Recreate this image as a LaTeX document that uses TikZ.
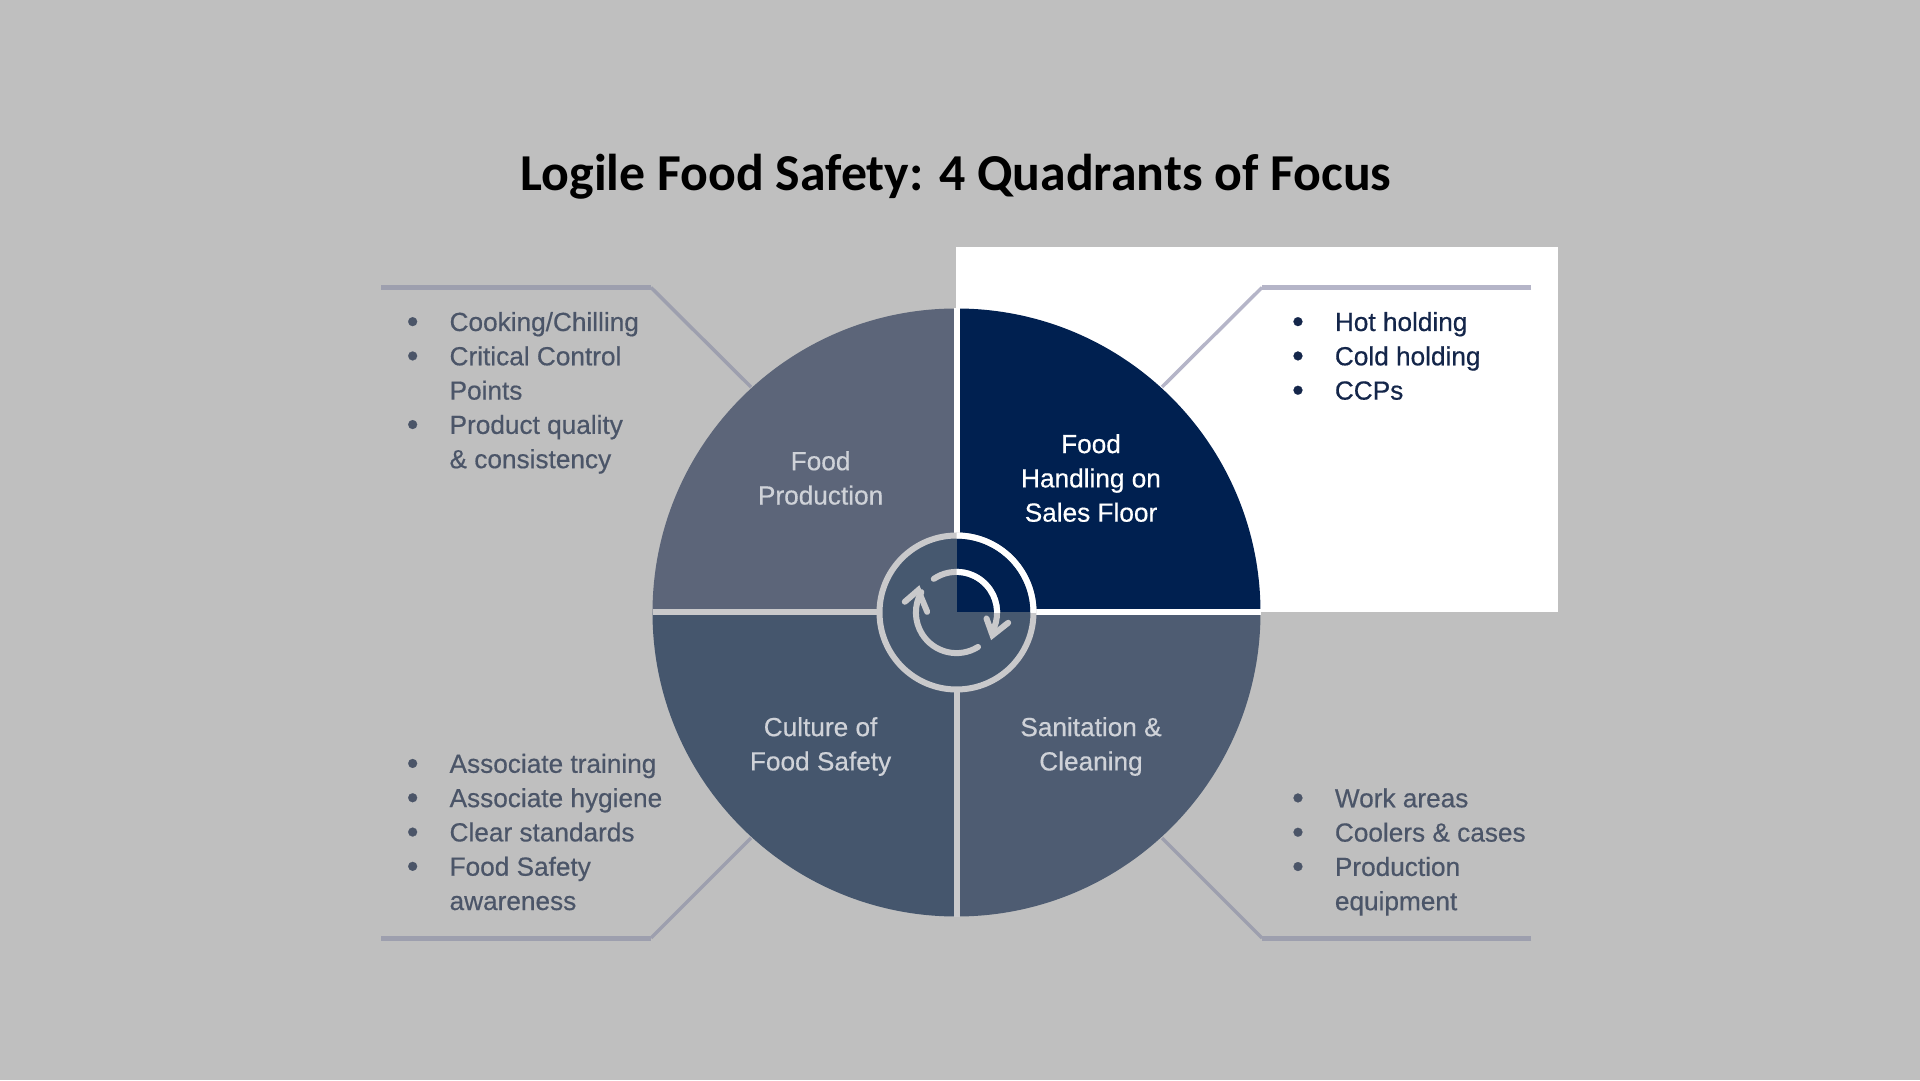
\documentclass[tikz,border=0pt]{standalone}
\usepackage{fontspec}
\setmainfont{Liberation Sans}
\newfontfamily\plainbody{Liberation Sans}[FakeBold=0.5]
\newfontfamily\titlefont{Carlito}
\definecolor{bgc}{HTML}{BFBFBF}
\definecolor{navyq}{HTML}{002050}
\definecolor{ulq}{HTML}{5C6579}
\definecolor{llq}{HTML}{45566D}
\definecolor{lrq}{HTML}{4E5C72}
\definecolor{hubc}{HTML}{46586F}
\definecolor{linec}{HTML}{C9C9CB}
\definecolor{leadg}{HTML}{9D9FAE}
\definecolor{leadw}{HTML}{B5B5C8}
\definecolor{listg}{HTML}{4B5568}
\definecolor{listn}{HTML}{14264A}
\definecolor{lab}{HTML}{CFD2D8}
\newcommand{\bodysize}{\plainbody\fontsize{26.2}{34.3}\selectfont}
\newcommand{\blt}{\raisebox{-1.6pt}[0pt][0pt]{\fontsize{33}{34.3}\selectfont\textbullet}}
\newenvironment{blist}{\renewcommand{\arraystretch}{1}\begin{tabular}[t]{@{}p{42.7pt}@{}l@{}}}{\end{tabular}}
\tikzset{
  x=1pt,y=1pt,
  listnode/.style={anchor=base west,inner sep=0pt,font=\bodysize,text=listg},
  qlabel/.style={align=center,inner sep=0pt,font=\bodysize,text=lab},
  leader/.style={draw=leadg,line width=3.5pt,line join=miter},
  leaderbar/.style={draw=leadg,line width=5pt},
  gapline/.style={draw=linec,line width=6pt},
  cyc/.style={draw=linec,line width=6pt,line cap=round},
  chev/.style={draw=linec,line width=6pt,line join=miter,line cap=round}
}
\begin{document}
\begin{tikzpicture}
\useasboundingbox (0,0) rectangle (1920,1080);
\fill[bgc] (0,0) rectangle (1920,1080);
\coordinate (c) at (956.5,467.5);
% white panel
\fill[white] (956,468) rectangle (1558,833);
% leader corners
\coordinate (ulA) at (381,792.5); \coordinate (ulB) at (651,792.5); \coordinate (ulC) at (751,693);
\coordinate (urA) at (1531,792.5); \coordinate (urB) at (1262,792.5); \coordinate (urC) at (1162,693);
\coordinate (llA) at (381,142); \coordinate (llB) at (651,142); \coordinate (llC) at (751,242);
\coordinate (lrA) at (1531,142); \coordinate (lrB) at (1262,142); \coordinate (lrC) at (1162,242);
\draw[leaderbar] (ulA) -- (ulB);
\draw[leader] (ulB) -- (ulC);
\draw[leaderbar,draw=leadw] (urA) -- (urB);
\draw[leader,draw=leadw] (urB) -- (urC);
\draw[leaderbar] (llA) -- (llB);
\draw[leader] (llB) -- (llC);
\draw[leaderbar] (lrA) -- (lrB);
\draw[leader] (lrB) -- (lrC);
% quadrants
\fill[navyq] (c) -- ++(0,304) arc[start angle=90,end angle=0,radius=304] -- cycle;
\fill[ulq] (c) -- ++(0,304) arc[start angle=90,end angle=180,radius=304] -- cycle;
\fill[llq] (c) -- ++(-304,0) arc[start angle=180,end angle=270,radius=304] -- cycle;
\fill[lrq] (c) -- ++(0,-304) arc[start angle=270,end angle=360,radius=304] -- cycle;
% dividers
\coordinate (dT) at (956.5,771.5); \coordinate (dB) at (956.5,163.5);
\coordinate (dL) at (652.5,467.5); \coordinate (dR) at (1260.5,467.5);
\draw[gapline,draw=white] (c) -- (dT);
\draw[gapline,draw=white] (c) -- (dR);
\draw[gapline] (c) -- (dL);
\draw[gapline] (c) -- (dB);
% hub
\fill[hubc] (c) circle[radius=77];
\begin{scope}
\clip (c) circle[radius=77];
\fill[navyq] (c) rectangle ++(90,90);
\end{scope}
\draw[linec,line width=6pt] (c) circle[radius=77];
\begin{scope}
\clip (c) rectangle ++(90,90);
\draw[white,line width=6pt] (c) circle[radius=77];
\end{scope}
% cycle arrows
\draw[cyc] ([shift={(124:40.6)}]c) arc[start angle=124,end angle=-30,radius=40.6];
\draw[chev] ([shift={(30,-6)}]c) -- ([shift={(36,-22.7)}]c) -- ([shift={(51.7,-10.3)}]c);
\begin{scope}
\clip (c) rectangle ++(90,90);
\draw[cyc,draw=white] ([shift={(124:40.6)}]c) arc[start angle=124,end angle=-30,radius=40.6];
\end{scope}
\draw[cyc] ([shift={(-58:40.6)}]c) arc[start angle=-58,end angle=-210,radius=40.6];
\draw[chev] ([shift={(-51.7,10.7)}]c) -- ([shift={(-38.3,22.3)}]c) -- ([shift={(-29.3,0.7)}]c);
% title
\node[anchor=base,inner sep=0pt,font=\titlefont\bfseries\fontsize{51.8}{60}\selectfont,text=black] (title) at (956,889.6) {Logile Food Safety: 4 Quadrants of Focus};
% quadrant labels
\node[qlabel] (qul) at (820.6,602) {Food\\Production};
\node[qlabel,text=white] (qur) at (1091,602) {Food\\Handling on\\Sales Floor};
\node[qlabel] (qll) at (820.6,333.5) {Culture of\\Food Safety};
\node[qlabel] (qlr) at (1091,333.5) {Sanitation \&\\Cleaning};
% lists
\node[listnode] (lul) at (406.7,749) {\begin{blist}\blt & Cooking/Chilling\\ \blt & Critical Control\\ & Points\\ \blt & Product quality\\ & \& consistency\end{blist}};
\node[listnode,text=listn] (lur) at (1292,749) {\begin{blist}\blt & Hot holding\\ \blt & Cold holding\\ \blt & CCPs\end{blist}};
\node[listnode] (lll) at (406.7,307.2) {\begin{blist}\blt & Associate training\\ \blt & Associate hygiene\\ \blt & Clear standards\\ \blt & Food Safety\\ & awareness\end{blist}};
\node[listnode] (llr) at (1292,272.7) {\begin{blist}\blt & Work areas\\ \blt & Coolers \& cases\\ \blt & Production\\ & equipment\end{blist}};
\end{tikzpicture}
\end{document}
